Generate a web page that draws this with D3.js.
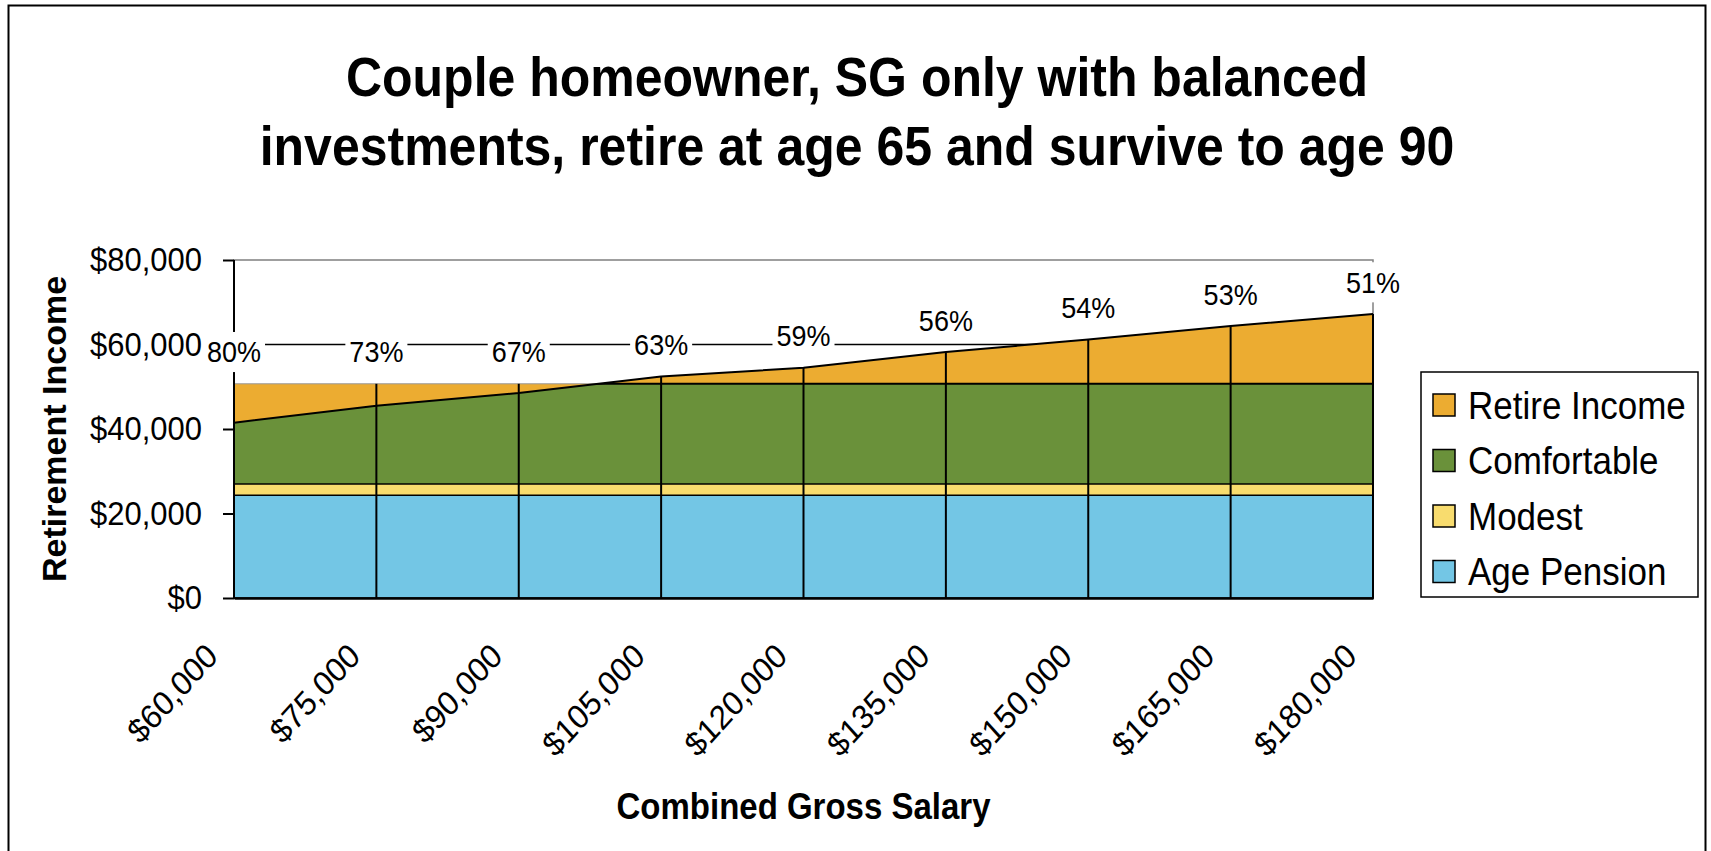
<!DOCTYPE html>
<html>
<head>
<meta charset="utf-8">
<title>Couple homeowner, SG only</title>
<script src="https://d3js.org/d3.v7.min.js"></script>
<style>
  body { margin: 0; background: #fff; }
  svg { display: block; font-family: "Liberation Sans", Arial, sans-serif; }
</style>
</head>
<body>
<div id="chart"></div>
<script>

// data
var salaries = [60000, 75000, 90000, 105000, 120000, 135000, 150000, 165000, 180000];
var agePension = [24300, 24300, 24300, 24300, 24300, 24300, 24300, 24300, 24300];
var modest = [27000, 27000, 27000, 27000, 27000, 27000, 27000, 27000, 27000];
var comfortable = [50700, 50700, 50700, 50700, 50700, 50700, 50700, 50700, 50700];
var retireIncome = [41500, 45500, 48500, 52400, 54500, 58200, 61200, 64400, 67200];
var replacement = [80, 73, 67, 63, 59, 56, 54, 53, 51];
var yTicks = [0, 20000, 40000, 60000, 80000];
var titleLines = ["Couple homeowner, SG only with balanced",
                  "investments, retire at age 65 and survive to age 90"];
var legendNames = ["Retire Income", "Comfortable", "Modest", "Age Pension"];
var legendColors = ["#ECAC31", "#6A913A", "#F8DC6E", "#73C6E5"];

var W = 1711, H = 851;
var stretch = 1.1; // text in the picture is a bit taller than wide

var svg = d3.select("#chart").append("svg")
    .attr("width", W).attr("height", H);

var rows = salaries.map(function(s, i) {
    return {s: s, pension: agePension[i], modest: modest[i], comf: comfortable[i],
            inc: retireIncome[i], pct: replacement[i]};
});

var x = d3.scalePoint().domain(salaries).range([234, 1373]);
var y = d3.scaleLinear().domain([0, 80000]).range([598, 260]);

// outer chart border
svg.append("rect")
    .attr("x", 8.5).attr("y", 5.5).attr("width", 1697).attr("height", H + 10)
    .attr("fill", "#fff").attr("stroke", "#000").attr("stroke-width", 2);

// plot area border
svg.append("rect")
    .attr("x", x.range()[0]).attr("y", y(80000))
    .attr("width", x.range()[1] - x.range()[0]).attr("height", y(0) - y(80000))
    .attr("fill", "none").attr("stroke", "#808080").attr("stroke-width", 1.5);

// gridlines
svg.append("g").selectAll("line")
    .data(yTicks.filter(function(d) { return d > 0 && d < 80000; }))
    .enter().append("line")
    .attr("x1", x.range()[0]).attr("x2", x.range()[1])
    .attr("y1", function(d) { return y(d); }).attr("y2", function(d) { return y(d); })
    .attr("stroke", "#000").attr("stroke-width", 1.5);

function band(key) {
    return d3.area()
        .x(function(d) { return x(d.s); })
        .y0(y(0))
        .y1(function(d) { return y(d[key]); });
}

// clip for everything that sits under the income line
svg.append("clipPath").attr("id", "underIncome")
    .append("path").attr("d", band("inc")(rows));

// orange: up to the comfortable level and up to the income line
svg.append("path").attr("d", band("comf")(rows))
    .attr("fill", legendColors[0]).attr("stroke", "#9a9a9a").attr("stroke-width", 1);
svg.append("path").attr("d", band("inc")(rows))
    .attr("fill", legendColors[0]).attr("stroke", "none");

// green: under both comfortable and income
svg.append("path").attr("d", band("comf")(rows))
    .attr("clip-path", "url(#underIncome)")
    .attr("fill", legendColors[1]).attr("stroke", "#000").attr("stroke-width", 2);

svg.append("path").attr("d", band("modest")(rows))
    .attr("fill", legendColors[2]).attr("stroke", "#000").attr("stroke-width", 1.5);
svg.append("path").attr("d", band("pension")(rows))
    .attr("fill", legendColors[3]).attr("stroke", "#000").attr("stroke-width", 1.5);

// income line
svg.append("path")
    .attr("d", d3.line().x(function(d) { return x(d.s); }).y(function(d) { return y(d.inc); })(rows))
    .attr("fill", "none").attr("stroke", "#000").attr("stroke-width", 2);

// drop lines
svg.append("g").selectAll("line").data(rows).enter().append("line")
    .attr("x1", function(d) { return x(d.s); }).attr("x2", function(d) { return x(d.s); })
    .attr("y1", function(d) { return y(Math.max(d.inc, d.comf)); }).attr("y2", y(0))
    .attr("stroke", "#000").attr("stroke-width", 2);

// y axis
var yAxis = svg.append("g")
    .attr("transform", "translate(" + x.range()[0] + ",0)")
    .call(d3.axisLeft(y).tickValues(yTicks).tickFormat(d3.format("$,")).tickSize(11).tickPadding(21));
yAxis.selectAll("path, line").attr("stroke", "#000").attr("stroke-width", 2);
yAxis.select(".domain").attr("d", "M0," + y(80000) + "V" + y(0));
yAxis.selectAll("text")
    .attr("font-size", 31).attr("fill", "#000")
    .attr("font-family", "'Liberation Sans', Arial, sans-serif")
    .attr("transform", "scale(1," + stretch + ")");

// x axis
var xAxis = svg.append("g")
    .attr("transform", "translate(0," + y(0) + ")")
    .call(d3.axisBottom(x).tickSize(0).tickFormat(d3.format("$,")));
xAxis.select(".domain").attr("stroke", "#000").attr("stroke-width", 2.5);
xAxis.selectAll("text")
    .attr("font-size", 31).attr("fill", "#000")
    .attr("font-family", "'Liberation Sans', Arial, sans-serif")
    .attr("text-anchor", "end")
    .attr("y", 0).attr("dy", 0)
    .attr("transform", "translate(-15,60) scale(1," + stretch + ") rotate(-45)");

// replacement rate labels with white boxes
var labels = svg.append("g").selectAll("g").data(rows).enter().append("g")
    .attr("transform", function(d) {
        return "translate(" + x(d.s) + "," + (y(Math.max(d.inc, d.comf)) - 32) + ") scale(1," + stretch + ")";
    });
labels.append("rect").attr("fill", "#fff");
labels.append("text")
    .attr("text-anchor", "middle").attr("dy", "0.36em")
    .attr("font-size", 27).attr("fill", "#000")
    .text(function(d) { return d.pct + "%"; });
labels.each(function() {
    var g = d3.select(this), b = g.select("text").node().getBBox();
    g.select("rect").attr("x", b.x - 4).attr("y", b.y - 3)
        .attr("width", b.width + 8).attr("height", b.height + 6);
});

// title
svg.append("g").selectAll("text").data(titleLines).enter().append("text")
    .attr("transform", function(d, i) { return "translate(857," + (96 + i * 69) + ") scale(1," + stretch + ")"; })
    .attr("text-anchor", "middle").attr("font-size", 50).attr("font-weight", "bold")
    .text(function(d) { return d; });

// axis titles
svg.append("text")
    .attr("transform", "translate(66," + ((y(0) + y(80000)) / 2) + ") rotate(-90)")
    .attr("text-anchor", "middle").attr("font-size", 34).attr("font-weight", "bold")
    .text("Retirement Income");
svg.append("text")
    .attr("transform", "translate(" + ((x.range()[0] + x.range()[1]) / 2) + ",819) scale(1," + stretch + ")")
    .attr("text-anchor", "middle").attr("font-size", 33).attr("font-weight", "bold")
    .text("Combined Gross Salary");

// legend
var legend = svg.append("g").attr("transform", "translate(1421,372)");
legend.append("rect").attr("width", 277).attr("height", 225)
    .attr("fill", "#fff").attr("stroke", "#000").attr("stroke-width", 1.5);
var item = legend.selectAll("g.item").data(legendNames).enter().append("g")
    .attr("class", "item")
    .attr("transform", function(d, i) { return "translate(0," + (33 + i * 55.5) + ")"; });
item.append("rect").attr("x", 12).attr("y", -11).attr("width", 22).attr("height", 22)
    .attr("fill", function(d, i) { return legendColors[i]; })
    .attr("stroke", "#000").attr("stroke-width", 1.5);
item.append("text").attr("transform", "translate(47,0) scale(1," + stretch + ")")
    .attr("dy", "0.36em").attr("font-size", 35)
    .text(function(d) { return d; });

</script>
</body>
</html>
